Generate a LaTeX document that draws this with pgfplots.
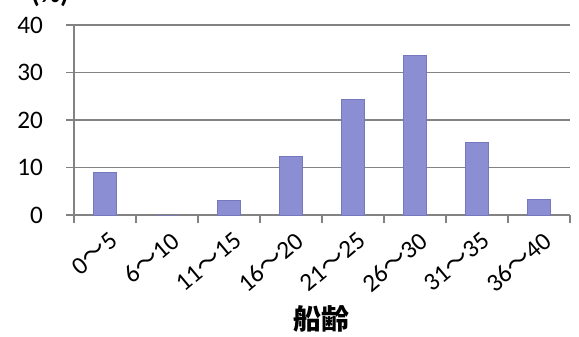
\documentclass[border=0pt]{standalone}
\usepackage{fontspec}
\setmainfont{Carlito}
\newfontfamily\cjk{Noto Sans CJK JP}
\usepackage{pgfplots}
\pgfplotsset{compat=1.18}
\definecolor{barfill}{RGB}{140,142,212}
\definecolor{bardraw}{RGB}{118,120,190}
\definecolor{gridc}{RGB}{130,130,130}
\newcommand{\tl}{{\cjk ～}}
\begin{document}
\begin{tikzpicture}
\useasboundingbox (-37pt,-61pt) rectangle (252.5pt,107.5pt);
\begin{axis}[
  at={(0,0)}, anchor=south west,
  scale only axis,
  width=248pt, height=95pt,
  xmin=-0.5, xmax=7.5,
  ymin=0, ymax=40,
  axis x line*=bottom, axis y line*=left,
  axis line style={draw=gridc, line width=0.6pt},
  ytick={0,10,20,30,40},
  ymajorgrids,
  grid style={draw=gridc, line width=0.6pt},
  xtick={0,...,7},
  xticklabels={0\tl5,6\tl10,11\tl15,16\tl20,21\tl25,26\tl30,31\tl35,36\tl40},
  minor xtick={-0.5,0.5,...,7.5},
  tick align=outside,
  major tick length=4pt,
  minor tick length=4pt,
  xtick style={draw=none},
  minor x tick style={draw=gridc, line width=0.6pt},
  ytick style={draw=gridc, line width=0.6pt},
  /pgf/number format/assume math mode=true,
  tick label style={font=\fontsize{12.6}{14}\selectfont, text=black},
  yticklabel style={xshift=-8pt},
  xticklabel style={rotate=40, anchor=north east, xshift=0pt, yshift=-3pt, inner sep=1pt},
  xlabel={\cjk\bfseries 船齢},
  xlabel style={at={(rel axis cs:0.5,0)}, anchor=center, yshift=-52pt, font=\fontsize{14}{16}\selectfont},
  clip=false,
]
\addplot[ybar, bar width=11.5pt, fill=barfill, draw=bardraw, line width=0.4pt]
  coordinates {(0,9.0) (1,0) (2,3.0) (3,12.3) (4,24.3) (5,33.5) (6,15.3) (7,3.2)};
\end{axis}
\node[anchor=base, font=\bfseries\fontsize{14}{16}\selectfont] at (-12pt,106pt) {(\%)};
\end{tikzpicture}
\end{document}
